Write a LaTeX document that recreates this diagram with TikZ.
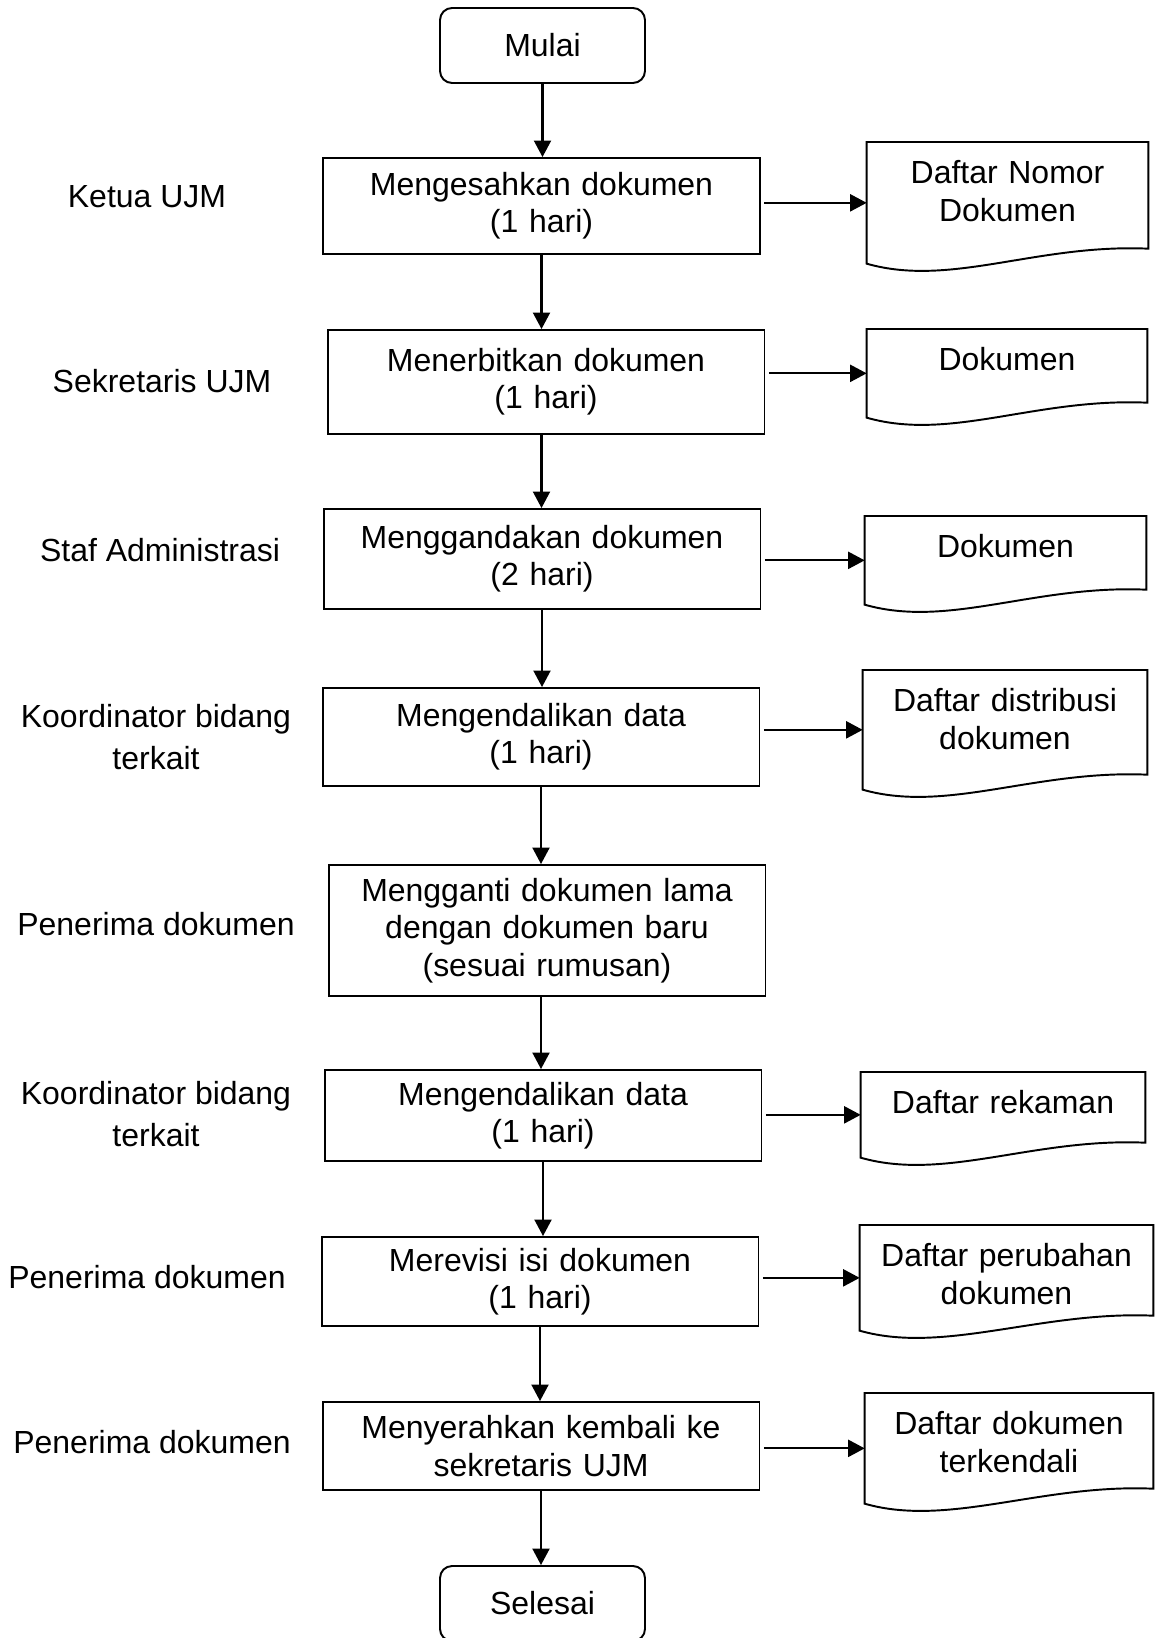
\documentclass[tikz,border=0pt]{standalone}
\usepackage{fontspec}
\setmainfont{Liberation Sans}
\usetikzlibrary{arrows.meta,positioning}

\tikzset{
  proc/.style={draw, line width=1.1pt, text width=8.38cm, inner xsep=0.18cm, align=center, minimum height=#1},
  term/.style={draw, line width=1.1pt, rounded corners=0.24cm, minimum width=4.1cm, minimum height=1.5cm},
  docbox/.style={inner sep=0pt, text width=5.62cm, align=center, text height=0.83cm, text depth=#1, anchor=north},
  actor/.style={align=center, font=\fontsize{18.2pt}{23.9pt}\selectfont},
  flow/.style={line width=1.2pt, -{Triangle[length=0.33cm,width=0.34cm]}},
}

\begin{document}
\begin{tikzpicture}[x=0.02cm, y=-0.02cm, font=\fontsize{18.2pt}{21.3pt}\selectfont]
\useasboundingbox (0,0) rectangle (1155,1638);

% main flow
\node[term] (mulai) at (542.5,45.5) {Mulai};
\node[proc=1.92cm] (b1) at (541.5,206) {Mengesahkan dokumen\\(1 hari)};
\node[proc=2.08cm] (b2) at (546,382) {Menerbitkan dokumen\\(1 hari)};
\node[proc=2.0cm] (b3) at (542,559) {Menggandakan dokumen\\(2 hari)};
\node[proc=1.96cm] (b4) at (541,737) {Mengendalikan data\\(1 hari)};
\node[proc=2.62cm] (b5) at (547,930.5) {Mengganti dokumen lama\\dengan dokumen baru\\(sesuai rumusan)};
\node[proc=1.82cm] (b6) at (543,1115.5) {Mengendalikan data\\(1 hari)};
\node[proc=1.78cm] (b7) at (540,1281.5) {Merevisi isi dokumen\\(1 hari)};
\node[proc=1.76cm] (b8) at (541,1446) {Menyerahkan kembali ke\\sekretaris UJM};
\node[term] (selesai) at (542.5,1603.5) {Selesai};

% documents
\node[docbox=1.59cm] (d1) at (1007.5,142) {Daftar Nomor\\Dokumen};
\node[docbox=0.93cm, text width=5.6cm] (d2) at (1007,329) {Dokumen};
\node[docbox=0.93cm] (d3) at (1005.5,516) {Dokumen};
\node[docbox=1.55cm, text width=5.68cm] (d4) at (1005,670) {Daftar distribusi\\dokumen};
\node[docbox=0.87cm, text width=5.68cm] (d6) at (1003,1072) {Daftar rekaman};
\node[docbox=1.27cm, text width=5.86cm] (d7) at (1006.5,1225) {Daftar perubahan\\dokumen};
\node[docbox=1.37cm, text width=5.76cm] (d8) at (1009,1393) {Daftar dokumen\\terkendali};

\foreach \d in {d1,d2,d3,d4,d6,d7,d8}
  \draw[line width=1.1pt] (\d.south west) -- (\d.north west) -- (\d.north east)
    -- ([shift={(0,-15)}]\d.south east) .. controls +(-112,-5) and +(84,24) .. (\d.south west) -- cycle;

% actors
\node[actor] (a1) at (147,197) {Ketua UJM};
\node[actor] (a2) at (162,381) {Sekretaris UJM};
\node[actor] (a3) at (160,550) {Staf Administrasi};
\node[actor] (a4) at (156,737.5) {Koordinator bidang\\terkait};
\node[actor] (a5) at (156,924) {Penerima dokumen};
\node[actor] (a6) at (156,1114) {Koordinator bidang\\terkait};
\node[actor] (a7) at (147,1277) {Penerima dokumen};
\node[actor] (a8) at (152,1442) {Penerima dokumen};

% arrows
\draw[flow] (mulai.south) -- (mulai.south |- b1.north);
\draw[flow] (b1.south) -- (b1.south |- b2.north);
\draw[flow] (b2.south -| b1.south) -- (b1.south |- b3.north);
\draw[flow] (b3.south) -- (b3.south |- b4.north);
\draw[flow] (b4.south) -- (b4.south |- b5.north);
\draw[flow] (b5.south -| b4.south) -- (b4.south |- b6.north);
\draw[flow] (b6.south) -- (b6.south |- b7.north);
\draw[flow] (b7.south) -- (b7.south |- b8.north);
\draw[flow] (b8.south) -- (b8.south |- selesai.north);

\draw[flow, shorten <=2pt] (b1.east |- d1.west) -- (d1.west);
\draw[flow, shorten <=2pt] (b2.east |- d2.west) -- (d2.west);
\draw[flow, shorten <=2pt] (b3.east |- d3.west) -- (d3.west);
\draw[flow, shorten <=2pt] (b4.east |- d4.west) -- (d4.west);
\draw[flow, shorten <=2pt] (b6.east |- d6.west) -- (d6.west);
\draw[flow, shorten <=2pt] (b7.east |- d7.west) -- (d7.west);
\draw[flow, shorten <=2pt] (b8.east |- d8.west) -- (d8.west);
\end{tikzpicture}
\end{document}
